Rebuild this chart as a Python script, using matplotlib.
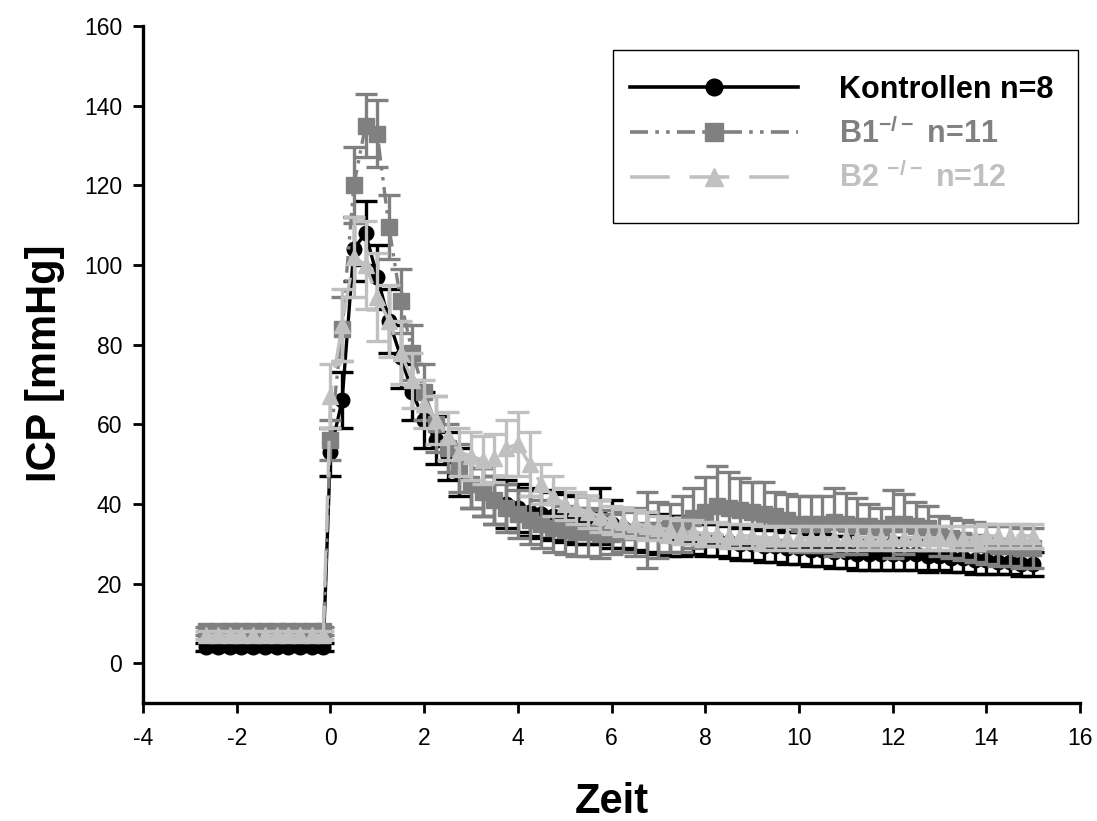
import matplotlib
matplotlib.use("Agg")
import matplotlib.pyplot as plt
from matplotlib.lines import Line2D
from matplotlib.patches import Rectangle

plt.rcParams['font.family'] = ['Liberation Sans', 'DejaVu Sans']
plt.rcParams['mathtext.fontset'] = 'custom'
plt.rcParams['mathtext.rm'] = 'Liberation Sans'
plt.rcParams['mathtext.bf'] = 'Liberation Sans:bold'

# ---------------- data ----------------
t_base = [-2.65, -2.4, -2.15, -1.9, -1.65, -1.4, -1.15, -0.9, -0.65, -0.4, -0.15]
t_post = [0, 0.25, 0.5, 0.75, 1, 1.25, 1.5, 1.75, 2, 2.25, 2.5, 2.75,
          3, 3.25, 3.5, 3.75, 4, 4.25, 4.5, 4.75, 5, 5.25, 5.5, 5.75,
          6, 6.25, 6.5, 6.75, 7, 7.25, 7.5, 7.75, 8, 8.25, 8.5, 8.75,
          9, 9.25, 9.5, 9.75, 10, 10.25, 10.5, 10.75, 11, 11.25, 11.5, 11.75,
          12, 12.25, 12.5, 12.75, 13, 13.25, 13.5, 13.75, 14, 14.25, 14.5, 14.75,
          15]

k_base = [4, 4, 4, 4, 4, 4, 4, 4, 4, 4, 4]
k_base_err = [1, 1, 1, 1, 1, 1, 1, 1, 1, 1, 1]
k_post = [53, 66, 104, 108,
          97, 86, 77, 68,
          61, 56, 52, 48,
          45, 43, 41, 40,
          39, 38, 37.5, 37,
          36.5, 36, 36, 37,
          35, 34, 33.5, 33,
          32.5, 32, 32, 31.5,
          31, 31, 30.5, 30,
          30, 29.5, 29.5, 29,
          29, 28.5, 28.5, 28,
          28, 27.5, 27.5, 27.5,
          27.5, 27.5, 27.5, 27,
          27, 26.5, 26.5, 26,
          26, 25.5, 25.5, 25,
          25]
k_post_err = [6, 7, 8, 8,
              8, 8, 8, 7,
              7, 6, 6, 6,
              6, 6, 6, 6,
              6, 6, 6, 6,
              6, 6, 6, 7,
              6, 5, 5, 5,
              5, 5, 5, 4,
              4, 4, 4, 4,
              4, 4, 4, 4,
              4, 4, 4, 4,
              4, 4, 4, 4,
              4, 4, 4, 4,
              3.5, 3.5, 3.5, 3.5,
              3.5, 3, 3, 3,
              3]

b1_base = [8, 8, 8, 8, 8, 8, 8, 8, 8, 8, 8]
b1_base_err = [1, 1, 1, 1, 1, 1, 1, 1, 1, 1, 1]
b1_post = [56, 84, 120, 135,
           133, 109.5, 91, 78,
           68, 60, 54, 49,
           45, 43, 41, 39,
           37.5, 36, 35, 34,
           33.5, 33, 33, 32.5,
           32.5, 33, 33, 33.5,
           33.5, 34, 35, 36.5,
           38, 39.5, 39, 38.5,
           38, 37.5, 37, 36,
           35, 35, 35, 35.5,
           35, 34.5, 34.5, 34,
           35, 35, 34.5, 34,
           32, 31.5, 31, 30.5,
           30, 29.5, 29.5, 29,
           29]
b1_post_err = [5, 8, 9.5, 8,
               8.5, 8, 8, 7,
               7, 7, 6, 6,
               6, 6, 6, 6,
               6, 6, 6, 6,
               6, 6, 6, 6,
               5, 5, 6, 9.5,
               7, 6, 7, 7.5,
               8.7, 10, 9, 8,
               7.5, 8, 6, 6.5,
               7, 7, 7, 8.5,
               7.7, 7, 5.5, 5,
               8.5, 7.5, 6, 5.5,
               5, 5, 5, 5,
               5, 5, 5, 5,
               5]

b2_base = [7, 7, 7, 7, 7, 7, 7, 7, 7, 7, 7]
b2_base_err = [1, 1, 1, 1, 1, 1, 1, 1, 1, 1, 1]
b2_post = [67, 85, 102, 100,
           92, 86, 78, 71,
           65, 61, 57, 53,
           52, 51, 51.5, 54,
           55, 50, 45, 42,
           40, 39, 38, 37,
           36, 35.5, 35, 34.5,
           34, 33.5, 33, 33,
           32.5, 32.5, 32, 32,
           32, 31.5, 31.5, 31.5,
           31.5, 31.5, 31.5, 31.5,
           31.5, 31.5, 31.5, 31.5,
           31.5, 31.5, 31.5, 31.5,
           31.5, 31.5, 31.5, 31.5,
           32, 32, 32, 32,
           32]
b2_post_err = [8, 9, 10, 11,
               11, 9, 8, 7,
               6, 6, 6, 6,
               6, 6, 6, 7,
               8, 8, 5, 5,
               4, 4, 4, 4,
               3.5, 3.5, 3.5, 3.5,
               3, 3, 3, 3,
               3, 3, 3, 3,
               3, 3, 3, 3,
               3, 3, 3, 3,
               3, 3, 3, 3,
               3, 3, 3, 3,
               3, 3, 3, 3,
               3, 3, 3, 3,
               3]

labels = ["Kontrollen n=8", r"B1$^{\mathbf{-/-}}$ n=11", r"B2 $^{\mathbf{-/-}}$ n=12"]
colors = ["#000000", "#808080", "#C0C0C0"]
markers = ["o", "s", "^"]
lstyles = ["-", (0, (5, 2, 1, 2, 1, 2)), (0, (11, 5.5))]
msizes = [10.5, 11, 12]

x_ticks = [-4, -2, 0, 2, 4, 6, 8, 10, 12, 14, 16]
y_ticks = [0, 20, 40, 60, 80, 100, 120, 140, 160]

# ---------------- figure ----------------
fig = plt.figure(figsize=(10.97, 8.21), dpi=100)
ax = fig.add_axes([143 / 1097, 1 - 703 / 821, (1080 - 143) / 1097, (703 - 26) / 821])

series = [
    (k_base + k_post, k_base_err + k_post_err),
    (b1_base + b1_post, b1_base_err + b1_post_err),
    (b2_base + b2_post, b2_base_err + b2_post_err),
]
t_all = t_base + t_post

for i, (vals, errs) in enumerate(series):
    ax.errorbar(t_all, vals, yerr=errs, color=colors[i], ecolor=colors[i],
                marker=markers[i], ms=msizes[i], mec=colors[i], mfc=colors[i],
                lw=2.4, linestyle=lstyles[i], elinewidth=2.4, capsize=8,
                capthick=2.4, zorder=3 + i)

ax.set_xlim(-4, 16)
ax.set_ylim(-10, 160)
ax.set_xticks(x_ticks)
ax.set_yticks(y_ticks)
ax.set_xticklabels([str(v) for v in x_ticks])
ax.set_yticklabels([str(v) for v in y_ticks])
for s in ["top", "right"]:
    ax.spines[s].set_visible(False)
for s in ["left", "bottom"]:
    ax.spines[s].set_linewidth(2.4)
ax.tick_params(axis="both", direction="out", length=7, width=2, labelsize=16.5)
ax.tick_params(axis="x", pad=10)
ax.tick_params(axis="y", pad=8)

fig.text(612 / 1097, 1 - 802 / 821, "Zeit", fontsize=30, fontweight="bold",
         ha="center", va="center")
fig.text(45 / 1097, 1 - 363 / 821, "ICP [mmHg]", fontsize=30, fontweight="bold",
         ha="center", va="center", rotation=90)

# legend frame
ax.add_patch(Rectangle((0.5016, 0.709), 0.4964, 0.2555, transform=ax.transAxes,
                       facecolor="white", edgecolor="black", lw=1.0, zorder=10,
                       clip_on=False))
handles = [Line2D([], [], color=colors[i], lw=2.6, linestyle=lstyles[i],
                  marker=markers[i], ms=msizes[i] + 1.5, mfc=colors[i], mec=colors[i])
           for i in range(3)]
leg = ax.legend(handles, labels, loc="upper left", bbox_to_anchor=(0.5197, 0.928),
                frameon=False, borderpad=0, borderaxespad=0, handlelength=5.5,
                handletextpad=1.35, labelspacing=0.42, numpoints=1,
                prop={"weight": "bold", "size": 22})
leg.set_zorder(11)
for txt, c in zip(leg.get_texts(), colors):
    txt.set_color(c)

fig.savefig("out.png", dpi=100)
